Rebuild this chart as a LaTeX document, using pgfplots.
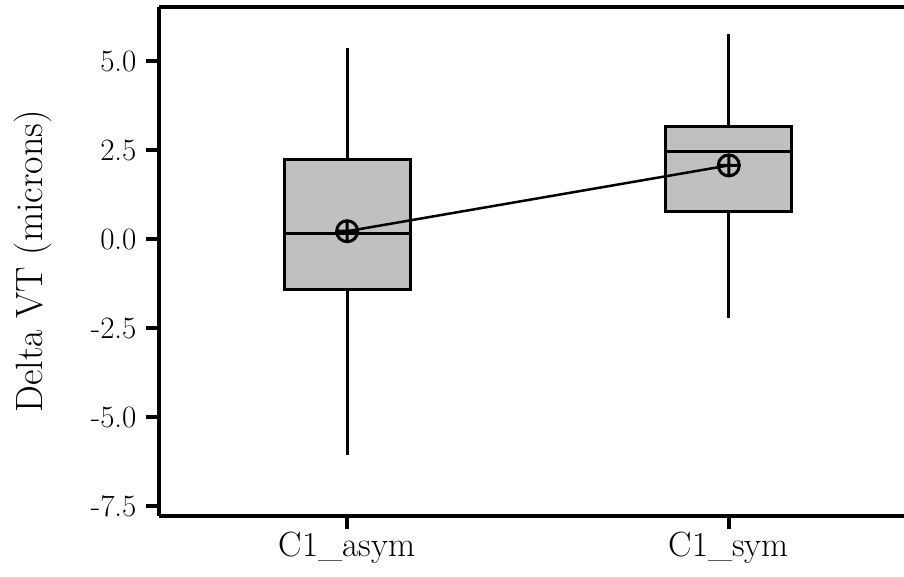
\documentclass[border=0pt]{standalone}
\usepackage{pgfplots}
\pgfplotsset{compat=1.18}
\usepgfplotslibrary{statistics}
\usepackage{fontspec}
\definecolor{boxgray}{HTML}{C0C0C0}
\begin{document}
\begin{tikzpicture}
\begin{axis}[
  name=ax,
  scale only axis, width=745pt, height=509pt,
  xmin=0.507, xmax=2.459, ymin=-7.78, ymax=6.52,
  axis x line*=box, axis y line*=left,
  axis line style={line width=3.5pt, black},
  xtick={1,2}, xticklabels={C1\_asym, C1\_sym},
  ytick={-7.5,-5,-2.5,0,2.5,5},
  scaled y ticks=false,
  tick align=outside,
  xtick pos=bottom, ytick pos=left,
  major tick length=13pt,
  tick style={line width=3.5pt, black},
  /pgf/number format/assume math mode=true,
  y tick label style={/pgf/number format/fixed, /pgf/number format/fixed zerofill, /pgf/number format/precision=1, font=\fontsize{31}{31}\selectfont, xshift=-6pt},
  x tick label style={font=\fontsize{35}{35}\selectfont},
  ylabel={Delta VT (microns)},
  ylabel style={at={(axis description cs:-0.1946,0.5)}, anchor=north, inner sep=0pt, font=\fontsize{38}{38}\selectfont},
  boxplot/draw direction=y,
  clip=false,
]
\addplot[boxplot prepared={lower whisker=-6.07, lower quartile=-1.41, median=0.15, upper quartile=2.23, upper whisker=5.36, draw position=1, box extend=0.33, whisker extend=0}, draw=black, fill=boxgray, line width=3pt, solid] coordinates {};
\addplot[boxplot prepared={lower whisker=-2.21, lower quartile=0.77, median=2.47, upper quartile=3.17, upper whisker=5.76, draw position=2, box extend=0.33, whisker extend=0}, draw=black, fill=boxgray, line width=3pt, solid] coordinates {};
\addplot[black, line width=2.5pt, mark=oplus, mark size=10.5pt, mark options={solid, fill opacity=0, line width=3pt}] coordinates {(1,0.22) (2,2.07)};
\end{axis}
\pgfresetboundingbox
\path ([xshift=-159pt,yshift=-61pt]ax.south west) rectangle ([yshift=7pt]ax.north east);
\end{tikzpicture}
\end{document}
